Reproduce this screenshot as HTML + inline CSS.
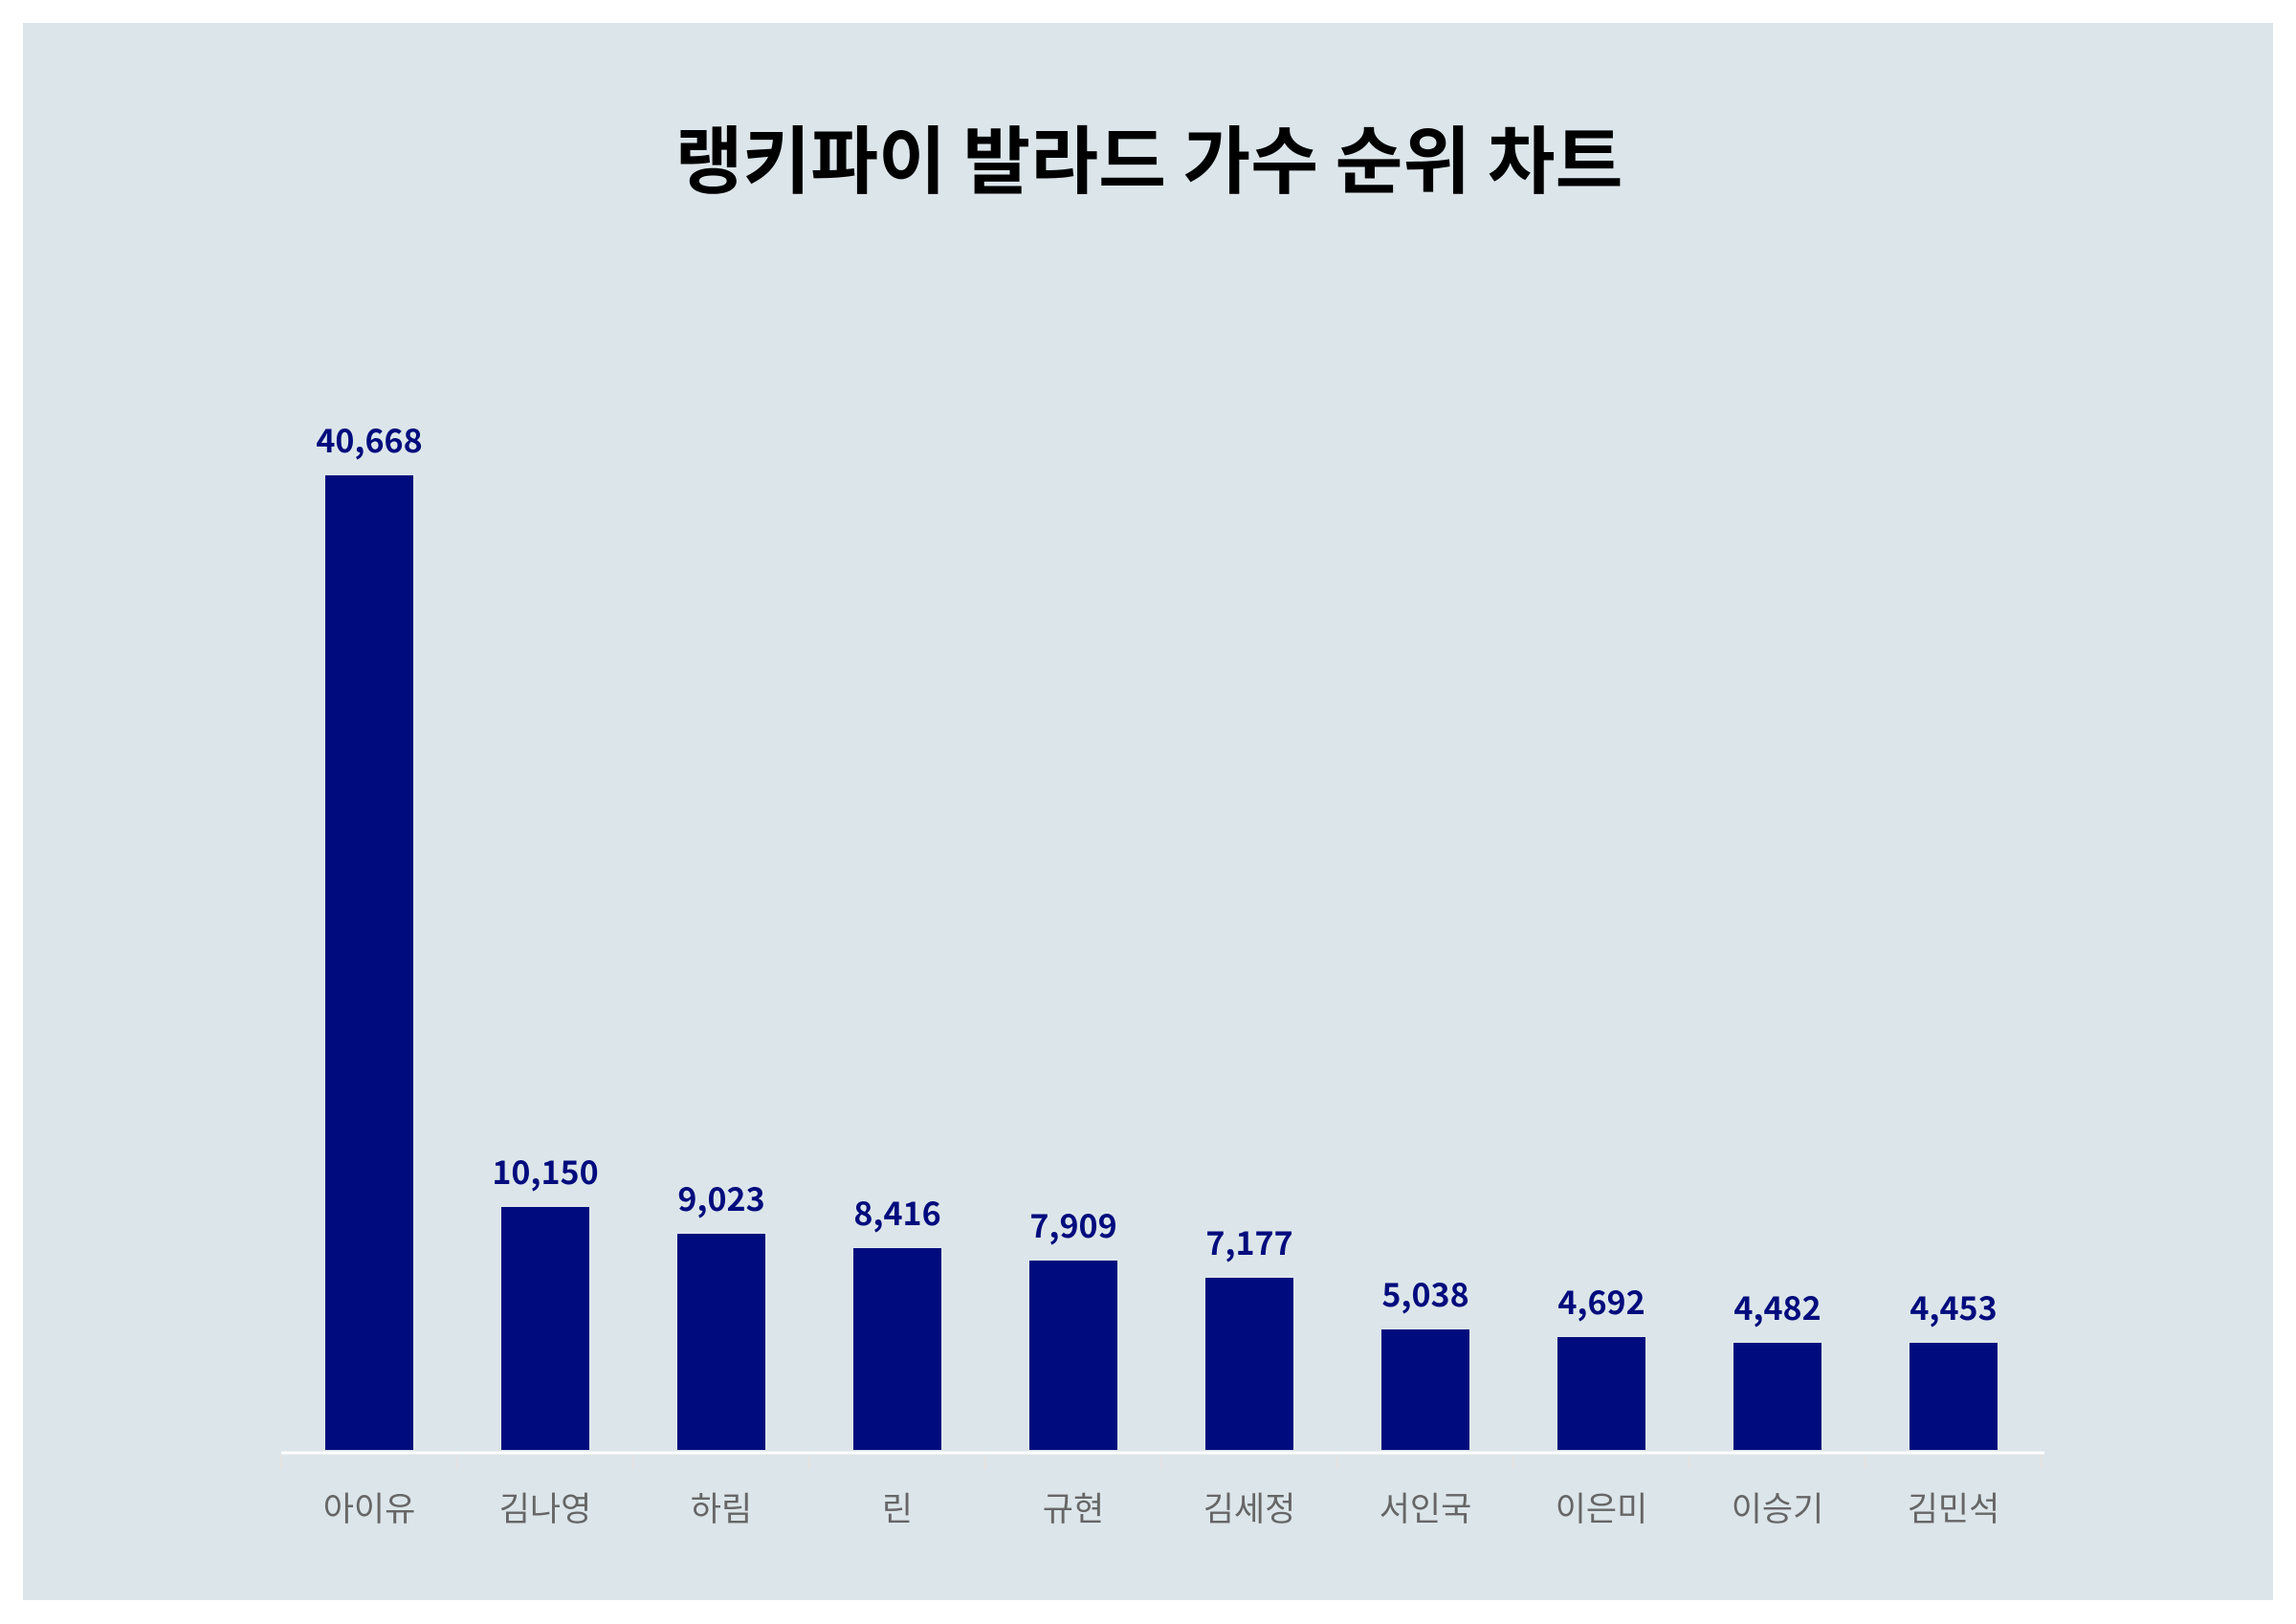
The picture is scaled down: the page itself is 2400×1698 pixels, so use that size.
<!DOCTYPE html>
<html><head><meta charset="utf-8"><style>
html,body{margin:0;padding:0;background:#fff;}
svg{display:block;}
</style></head><body>
<svg width="2400" height="1698" xmlns="http://www.w3.org/2000/svg">
<rect x="24" y="24" width="2352" height="1649" fill="#dce6ea"/>
<text x="1201" y="196" text-anchor="middle" font-family="'Noto Sans CJK KR', sans-serif" font-weight="bold" font-size="77" fill="#000">랭키파이 발라드 가수 순위 차트</text>
<g fill="#000c7d">
<rect x="340" y="497" width="92" height="1019"/>
<rect x="524" y="1262" width="92" height="254"/>
<rect x="708" y="1290" width="92" height="226"/>
<rect x="892" y="1305" width="92" height="211"/>
<rect x="1076" y="1318" width="92" height="198"/>
<rect x="1260" y="1336" width="92" height="180"/>
<rect x="1444" y="1390" width="92" height="126"/>
<rect x="1628" y="1398" width="92" height="118"/>
<rect x="1812" y="1404" width="92" height="112"/>
<rect x="1996" y="1404" width="92" height="112"/>
</g>
<line x1="294" y1="1519" x2="2137" y2="1519" stroke="#fff" stroke-width="3"/>
<g stroke="#e6e2e2" stroke-width="2">
<line x1="294" y1="1521" x2="294" y2="1537"/><line x1="478" y1="1521" x2="478" y2="1537"/><line x1="662" y1="1521" x2="662" y2="1537"/><line x1="846" y1="1521" x2="846" y2="1537"/><line x1="1030" y1="1521" x2="1030" y2="1537"/><line x1="1214" y1="1521" x2="1214" y2="1537"/><line x1="1398" y1="1521" x2="1398" y2="1537"/><line x1="1582" y1="1521" x2="1582" y2="1537"/><line x1="1766" y1="1521" x2="1766" y2="1537"/><line x1="1950" y1="1521" x2="1950" y2="1537"/><line x1="2134" y1="1521" x2="2134" y2="1537"/>
</g>
<g font-family="'Noto Sans CJK KR', sans-serif" font-weight="bold" font-size="34" fill="#000c7d" text-anchor="middle">
<text x="386" y="473">40,668</text>
<text x="570" y="1238">10,150</text>
<text x="754" y="1266">9,023</text>
<text x="938" y="1281">8,416</text>
<text x="1122" y="1294">7,909</text>
<text x="1306" y="1312">7,177</text>
<text x="1490" y="1366">5,038</text>
<text x="1674" y="1374">4,692</text>
<text x="1858" y="1380">4,482</text>
<text x="2042" y="1380">4,453</text>
</g>
<g font-family="'Noto Sans CJK KR', sans-serif" font-size="35" fill="#666" text-anchor="middle">
<text x="386" y="1590">아이유</text>
<text x="570" y="1590">김나영</text>
<text x="754" y="1590">하림</text>
<text x="938" y="1590">린</text>
<text x="1122" y="1590">규현</text>
<text x="1306" y="1590">김세정</text>
<text x="1490" y="1590">서인국</text>
<text x="1674" y="1590">이은미</text>
<text x="1858" y="1590">이승기</text>
<text x="2042" y="1590">김민석</text>
</g>
</svg>
</body></html>
